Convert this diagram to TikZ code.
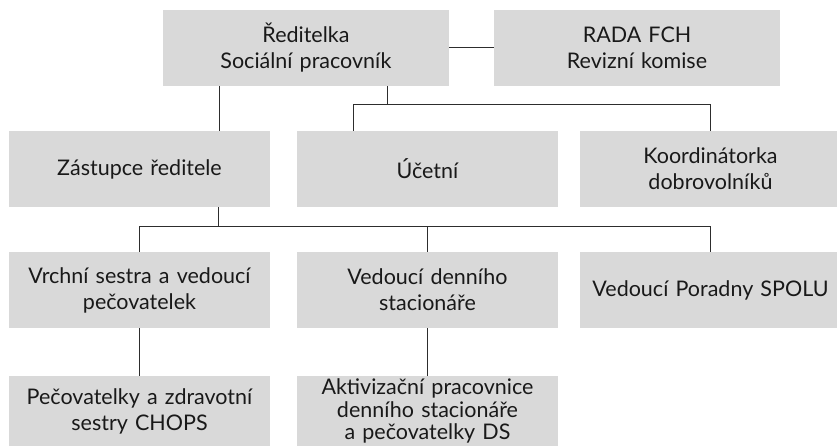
\documentclass[tikz,border=0pt]{standalone}
\usepackage{fontspec}
\setmainfont{Lato}
\usepackage{xcolor}
\usepackage{tikz}
\usetikzlibrary{positioning,calc}
\definecolor{boxcolor}{RGB}{217, 217, 217}
\definecolor{linecolor}{RGB}{45, 45, 45}
\definecolor{textcolor}{RGB}{25, 25, 25}
\tikzset{
    unit/.style={rectangle, fill=boxcolor, minimum height=76pt, inner sep=0pt, text width=255pt, align=center, text=textcolor, font=\fontsize{21.5}{26}\selectfont},
    wide unit/.style={unit, minimum width=286pt},
    narrow unit/.style={unit, minimum width=261pt},
    low unit/.style={narrow unit, minimum height=70pt},
    link/.style={draw=linecolor, line width=1pt}
}
\begin{document}
\begin{tikzpicture}[x=1pt, y=1pt]
\clip (0,0) rectangle (837,446);
% top row
\node[wide unit] (dir) at (306,398) {Ředitelka\\Sociální pracovník};
\node[wide unit] (rada) at (637,398) {RADA FCH\\Revizní komise};
% second row
\node[narrow unit] (zast) at (139.5,277) {Zástupce ředitele};
\node[narrow unit] (ucet) at (427.5,277) {Účetní};
\node[narrow unit] (koord) at (710.5,277) {Koordinátorka\\dobrovolníků};
% third row
\node[narrow unit] (vrch) at (139.5,156) {Vrchní sestra a vedoucí\\pečovatelek};
\node[narrow unit] (vden) at (427.5,156) {Vedoucí denního\\stacionáře};
\node[narrow unit] (porad) at (710.5,156) {Vedoucí Poradny SPOLU};
% fourth row
\node[low unit] (pec) at (139.5,35) {Pečovatelky a zdravotní\\sestry CHOPS};
\node[low unit, font=\fontsize{21.5}{22.5}\selectfont] (akt) at (427.5,35) {Aktivizační pracovnice\\denního stacionáře\\a pečovatelky DS};

\draw[link] (dir) -- (rada);
\draw[link] ([xshift=-87pt]dir.south) -- ([xshift=-87pt]dir.south |- zast.north);
\draw[link] ([xshift=81pt]dir.south) -- ++(0,-18) coordinate (b1);
\draw[link] ([xshift=-74.5pt]ucet.north) |- (b1) -| (koord.north);
\draw[link] ([xshift=79pt]zast.south) -- ++(0,-19) coordinate (b2);
\draw[link] (vrch.north) |- (b2) -| (porad.north);
\draw[link] (vden.north) -- (vden.north |- b2);
\draw[link] (vrch) -- (pec);
\draw[link] (vden) -- (akt);
\end{tikzpicture}
\end{document}
